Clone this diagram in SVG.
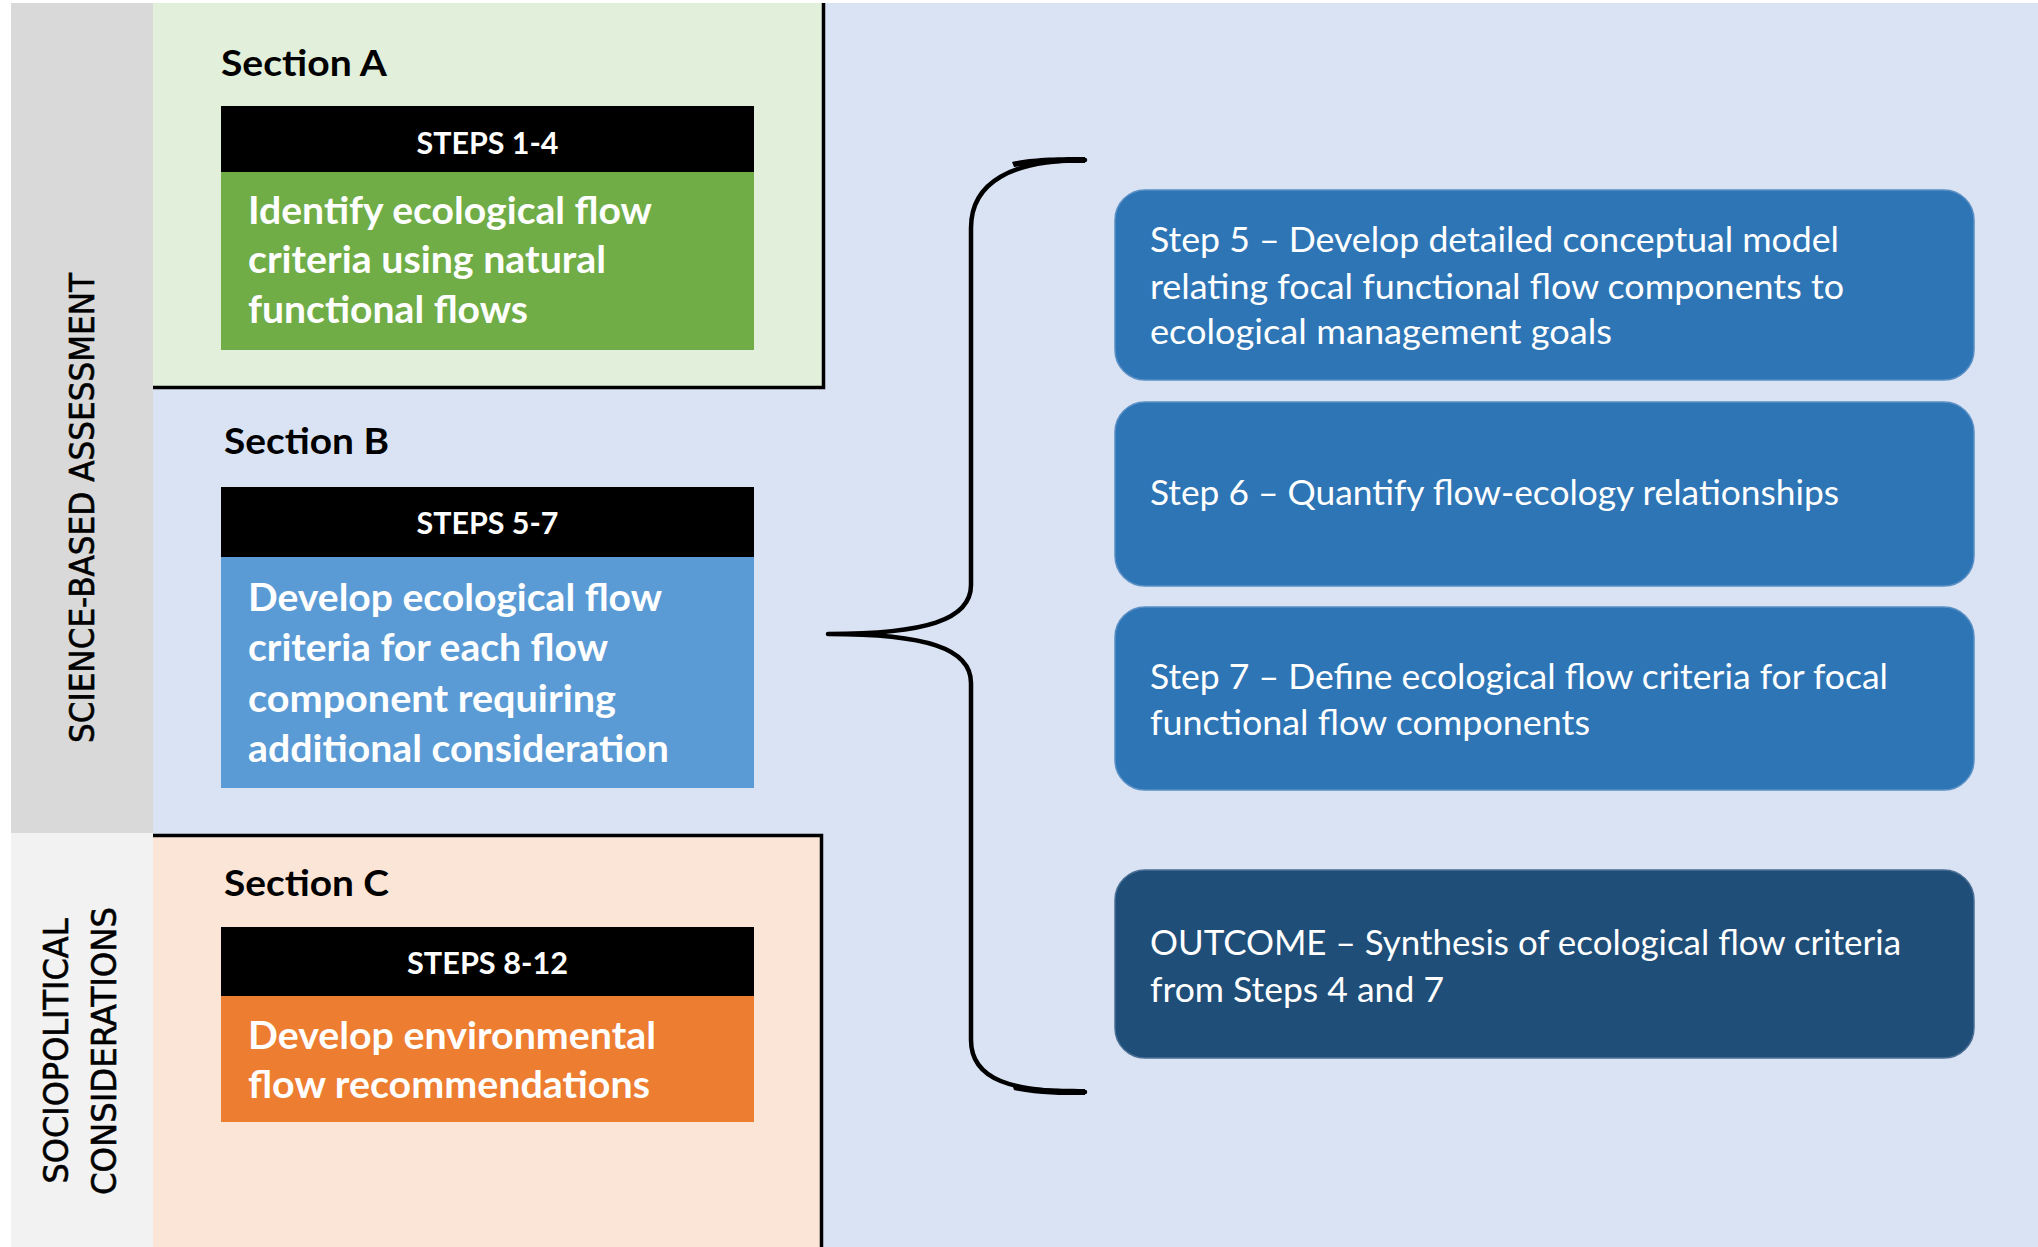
<svg xmlns="http://www.w3.org/2000/svg" width="2038" height="1247" viewBox="0 0 2038 1247">
<style>
  .head{font-family:Lato,"Liberation Sans",sans-serif;font-weight:700;font-size:37px;fill:#000}
  .bar{font-family:Lato,"Liberation Sans",sans-serif;font-weight:700;font-size:31px;fill:#fff}
  .body{font-family:Lato,"Liberation Sans",sans-serif;font-weight:700;font-size:38px;fill:#fff}
  .step{font-family:Lato,"Liberation Sans",sans-serif;font-weight:400;font-size:35px;fill:#fff}
  .side{font-family:"DejaVu Sans","Liberation Sans",sans-serif;font-size:33px;fill:#000;stroke:#000;stroke-width:0.6}
  .edge{stroke:#000;stroke-width:3.5;fill:none}
  .box{fill:#2E75B6;stroke:#5a8fc4;stroke-width:1.5}
  .brace{fill:none;stroke:#000;stroke-width:4.5;stroke-linecap:round;stroke-linejoin:round}
</style>
<rect x="0" y="0" width="2038" height="1247" fill="#ffffff"/>
<rect x="11" y="3" width="2027" height="1244" fill="#DAE3F3"/>

<g id="side-science">
  <rect x="11" y="3" width="142" height="830" fill="#D9D9D9"/>
  <text class="side" transform="translate(94,508) rotate(-90)" text-anchor="middle" textLength="470" lengthAdjust="spacingAndGlyphs">SCIENCE-BASED ASSESSMENT</text>
</g>
<g id="side-socio">
  <rect x="11" y="833" width="142" height="414" fill="#F2F2F2"/>
  <text class="side" transform="translate(68,1051) rotate(-90)" text-anchor="middle" textLength="265" lengthAdjust="spacingAndGlyphs">SOCIOPOLITICAL</text>
  <text class="side" transform="translate(116,1051) rotate(-90)" text-anchor="middle" textLength="288" lengthAdjust="spacingAndGlyphs">CONSIDERATIONS</text>
</g>

<g id="section-a">
  <rect x="153" y="3" width="670" height="384" fill="#E2EFDA"/>
  <path class="edge" d="M153,387.5 L823.5,387.5 L823.5,3"/>
  <text class="head" x="221" y="76" textLength="166" lengthAdjust="spacingAndGlyphs">Section A</text>
  <rect x="221" y="106" width="533" height="66" fill="#000"/>
  <text class="bar" x="487.5" y="154" text-anchor="middle" textLength="142" lengthAdjust="spacingAndGlyphs">STEPS 1-4</text>
  <rect x="221" y="172" width="533" height="178" fill="#70AD47"/>
  <text class="body" x="248" y="224" textLength="404" lengthAdjust="spacingAndGlyphs">Identify ecological flow</text>
  <text class="body" x="248" y="273" textLength="358" lengthAdjust="spacingAndGlyphs">criteria using natural</text>
  <text class="body" x="248" y="323" textLength="280" lengthAdjust="spacingAndGlyphs">functional flows</text>
</g>

<g id="section-b">
  <text class="head" x="224" y="454" textLength="165" lengthAdjust="spacingAndGlyphs">Section B</text>
  <rect x="221" y="487" width="533" height="70" fill="#000"/>
  <text class="bar" x="487.5" y="534" text-anchor="middle" textLength="142" lengthAdjust="spacingAndGlyphs">STEPS 5-7</text>
  <rect x="221" y="557" width="533" height="231" fill="#5B9BD5"/>
  <text class="body" x="248" y="611" textLength="414" lengthAdjust="spacingAndGlyphs">Develop ecological flow</text>
  <text class="body" x="248" y="661" textLength="360" lengthAdjust="spacingAndGlyphs">criteria for each flow</text>
  <text class="body" x="248" y="712" textLength="368" lengthAdjust="spacingAndGlyphs">component requiring</text>
  <text class="body" x="248" y="762" textLength="421" lengthAdjust="spacingAndGlyphs">additional consideration</text>
</g>

<g id="section-c">
  <rect x="153" y="835" width="669" height="412" fill="#FBE5D6"/>
  <path class="edge" d="M153,835.5 L821.5,835.5 L821.5,1247"/>
  <text class="head" x="224" y="896" textLength="165" lengthAdjust="spacingAndGlyphs">Section C</text>
  <rect x="221" y="927" width="533" height="69" fill="#000"/>
  <text class="bar" x="487.5" y="974" text-anchor="middle" textLength="161" lengthAdjust="spacingAndGlyphs">STEPS 8-12</text>
  <rect x="221" y="996" width="533" height="126" fill="#ED7D31"/>
  <text class="body" x="248" y="1049" textLength="408" lengthAdjust="spacingAndGlyphs">Develop environmental</text>
  <text class="body" x="248" y="1098" textLength="402" lengthAdjust="spacingAndGlyphs">flow recommendations</text>
</g>

<g id="step-5">
  <rect class="box" x="1115" y="190" width="859" height="190" rx="30" ry="30"/>
  <text class="step" x="1150" y="252" textLength="689" lengthAdjust="spacingAndGlyphs">Step 5 – Develop detailed conceptual model</text>
  <text class="step" x="1150" y="299" textLength="694" lengthAdjust="spacingAndGlyphs">relating focal functional flow components to</text>
  <text class="step" x="1150" y="344" textLength="462" lengthAdjust="spacingAndGlyphs">ecological management goals</text>
</g>
<g id="step-6">
  <rect class="box" x="1115" y="402" width="859" height="184" rx="30" ry="30"/>
  <text class="step" x="1150" y="505" textLength="689" lengthAdjust="spacingAndGlyphs">Step 6 – Quantify flow-ecology relationships</text>
</g>
<g id="step-7">
  <rect class="box" x="1115" y="607" width="859" height="183" rx="30" ry="30"/>
  <text class="step" x="1150" y="689" textLength="738" lengthAdjust="spacingAndGlyphs">Step 7 – Define ecological flow criteria for focal</text>
  <text class="step" x="1150" y="735" textLength="440" lengthAdjust="spacingAndGlyphs">functional flow components</text>
</g>
<g id="outcome">
  <rect class="box" x="1115" y="870" width="859" height="188" rx="30" ry="30" style="fill:#1F4E79;stroke:#4a6f94"/>
  <text class="step" x="1150" y="955" textLength="751" lengthAdjust="spacingAndGlyphs">OUTCOME – Synthesis of ecological flow criteria</text>
  <text class="step" x="1150" y="1002" textLength="294" lengthAdjust="spacingAndGlyphs">from Steps 4 and 7</text>
</g>

<g id="connectors">
  <path class="brace" d="M1085,160 C1012,160 971,182 971,228 L971,585 C971,620 925,634 828,634 C925,634 971,648 971,683 L971,1040 C971,1080 1012,1092 1085,1092"/>
  <path d="M1085,157 C1050,157 1030,158 1012,162 L1014,167 C1040,163 1060,163 1085,163 Z" fill="#000"/>
  <path d="M1085,1089 C1050,1089 1030,1088 1012,1084 L1014,1090 C1040,1095 1060,1095 1085,1095 Z" fill="#000"/>
</g>
</svg>
